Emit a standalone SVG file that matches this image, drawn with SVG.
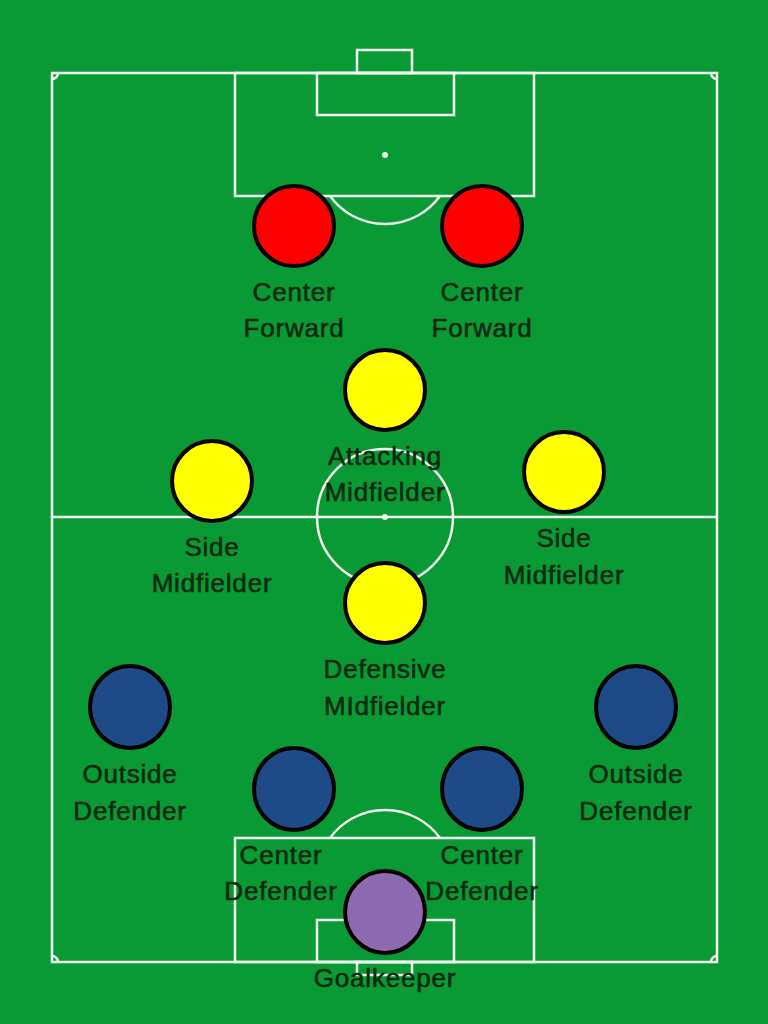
<svg xmlns="http://www.w3.org/2000/svg" width="768" height="1024" viewBox="0 0 768 1024">
<style>
.ln{fill:none;stroke:#eef7ee;stroke-width:2.5}
.p{stroke:#000;stroke-width:4}
.red{fill:#ff0000}.yel{fill:#ffff00}.blu{fill:#1f4a88}.pur{fill:#8e6bb0}
text{font-family:"Liberation Sans",Arial,sans-serif;font-size:26px;fill:#0b2a10;stroke:#0b2a10;stroke-width:0.6;text-anchor:middle;letter-spacing:0.8px}
</style>
<rect width="768" height="1024" fill="#0a9a35"/>
<g id="pitch">
<rect class="ln" x="52" y="73" width="665" height="889"/>
<line class="ln" x1="52" y1="517" x2="717" y2="517"/>
<circle class="ln" cx="385" cy="517" r="68"/>
<circle cx="385" cy="517" r="3" fill="#eef7ee"/>
<rect class="ln" x="235" y="73" width="299" height="123"/>
<rect class="ln" x="317" y="73" width="137" height="42"/>
<rect class="ln" x="357" y="50" width="55" height="23"/>
<circle cx="385" cy="155" r="3" fill="#eef7ee"/>
<path class="ln" d="M330 196 A68 68 0 0 0 440 196"/>
<rect class="ln" x="235" y="838" width="299" height="124"/>
<rect class="ln" x="317" y="920" width="137" height="42"/>
<rect class="ln" x="357" y="962" width="55" height="13"/>
<path class="ln" d="M330 838 A68 68 0 0 1 440 838"/>
<path class="ln" d="M52 79 A6 6 0 0 0 58 73 M711 73 A6 6 0 0 0 717 79 M52 956 A6 6 0 0 1 58 962 M711 962 A6 6 0 0 1 717 956"/>
</g>
<g id="cf-left"><circle class="p red" cx="294" cy="226" r="40"/><text x="294" y="301">Center</text><text x="294" y="337">Forward</text></g>
<g id="cf-right"><circle class="p red" cx="482" cy="226" r="40"/><text x="482" y="301">Center</text><text x="482" y="337">Forward</text></g>
<g id="am"><circle class="p yel" cx="385" cy="390" r="40"/><text x="385" y="465">Attacking</text><text x="385" y="501">Midfielder</text></g>
<g id="sm-left"><circle class="p yel" cx="212" cy="481" r="40"/><text x="212" y="556">Side</text><text x="212" y="592">Midfielder</text></g>
<g id="sm-right"><circle class="p yel" cx="564" cy="472" r="40"/><text x="564" y="547">Side</text><text x="564" y="584">Midfielder</text></g>
<g id="dm"><circle class="p yel" cx="385" cy="603" r="40"/><text x="385" y="678">Defensive</text><text x="385" y="715">MIdfielder</text></g>
<g id="od-left"><ellipse class="p blu" cx="130" cy="707" rx="40" ry="41"/><text x="130" y="783">Outside</text><text x="130" y="820">Defender</text></g>
<g id="od-right"><ellipse class="p blu" cx="636" cy="707" rx="40" ry="41"/><text x="636" y="783">Outside</text><text x="636" y="820">Defender</text></g>
<g id="cd-left"><ellipse class="p blu" cx="294" cy="789" rx="40" ry="41"/><text x="281" y="864">Center</text><text x="281" y="900">Defender</text></g>
<g id="cd-right"><ellipse class="p blu" cx="482" cy="789" rx="40" ry="41"/><text x="482" y="864">Center</text><text x="482" y="900">Defender</text></g>
<g id="gk"><ellipse class="p pur" cx="385" cy="912" rx="40" ry="41"/><text x="385" y="987">Goalkeeper</text></g>
<g id="connectors"></g>
</svg>
